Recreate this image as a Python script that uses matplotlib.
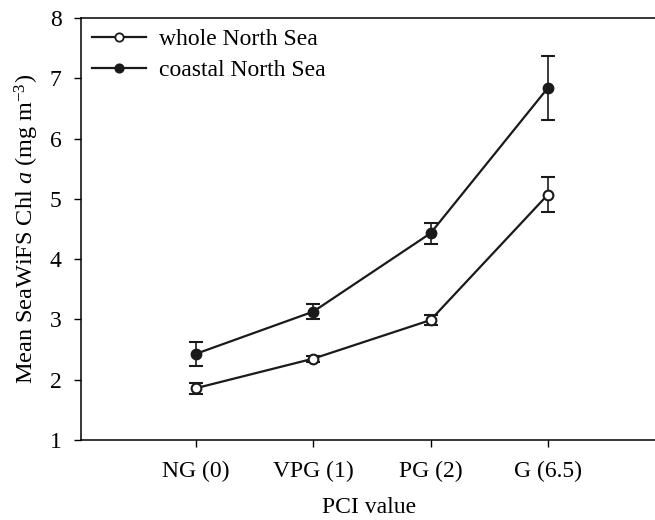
import matplotlib
matplotlib.use("Agg")
import matplotlib.pyplot as plt
from matplotlib.lines import Line2D
import numpy as np

plt.rcParams['font.family'] = ['Liberation Serif', 'DejaVu Serif']
plt.rcParams['mathtext.fontset'] = 'custom'
plt.rcParams['mathtext.rm'] = 'Liberation Serif'
plt.rcParams['mathtext.it'] = 'Liberation Serif:italic'

categories = ["NG (0)", "VPG (1)", "PG (2)", "G (6.5)"]
whole_mean = [1.86, 2.35, 2.99, 5.07]
whole_err = [0.09, 0.05, 0.08, 0.29]
coastal_mean = [2.43, 3.13, 4.43, 6.84]
coastal_err = [0.20, 0.12, 0.17, 0.53]

fig = plt.figure(figsize=(6.55, 5.2), dpi=100)
ax = fig.add_axes([0.1237, 0.1538, 0.881, 0.8115])
x = np.arange(len(categories))

col = '#1a1a1a'
kw = dict(color=col, lw=1.6, marker='o', ms=7, mec=col, mew=1.5, capsize=5,
          elinewidth=1.2, capthick=1.2)
ax.errorbar(x, whole_mean, yerr=whole_err, mfc='white', **kw)
ax.errorbar(x, coastal_mean, yerr=coastal_err, mfc=col, **kw)

ax.set_xlim(-0.98, 3.94)
ax.set_ylim(1, 8)
ax.set_xticks(x)
ax.set_xticklabels(categories)
ax.set_yticks(range(1, 9))
ax.tick_params(axis='both', direction='out', length=5, width=1, labelsize=17)
ax.tick_params(axis='x', pad=10)
ax.tick_params(axis='y', pad=9)
ax.tick_params(top=False, right=False)
ax.set_xlabel("PCI value", fontsize=17, labelpad=11)
ax.set_ylabel("Mean SeaWiFS Chl $a$ (mg m$^{-3}$)", fontsize=17.5, labelpad=6)
for s in ax.spines.values():
    s.set_linewidth(1.1)

handles = [
    Line2D([], [], color=col, lw=1.6, marker='o', ms=6, mfc='white', mec=col, mew=1.3),
    Line2D([], [], color=col, lw=1.6, marker='o', ms=6, mfc=col, mec=col, mew=1.3),
]
ax.legend(handles, ['whole North Sea', 'coastal North Sea'], loc='upper left',
          frameon=False, fontsize=17, handlelength=2.3, borderaxespad=0.1,
          borderpad=0.35, labelspacing=0.4, handletextpad=0.55)
fig.savefig("out.png", dpi=100)
